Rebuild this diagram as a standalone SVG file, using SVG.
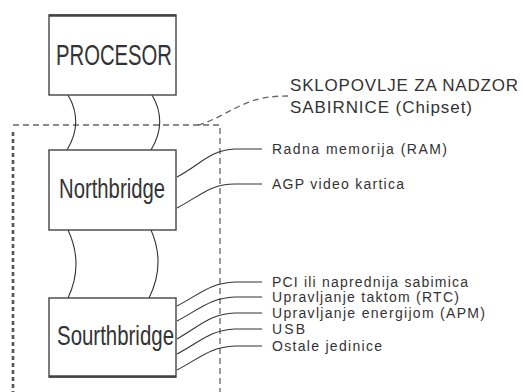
<svg xmlns="http://www.w3.org/2000/svg" width="523" height="392" viewBox="0 0 523 392">
<style>
.box{fill:#fff;stroke:#444;stroke-width:1.4}
.edge{stroke:#444;stroke-width:2.6}
.big{font-family:"Liberation Sans",Arial,sans-serif;fill:#333}
.lbl{font-family:"Liberation Sans",Arial,sans-serif;font-size:14px;fill:#333}
.ttl{font-family:"Liberation Sans",Arial,sans-serif;font-size:17px;fill:#333}
.wire{fill:none;stroke:#333;stroke-width:1.1}
.dash{fill:none;stroke:#666;stroke-width:1.3;stroke-dasharray:6 4}
.dot{fill:none;stroke:#555;stroke-width:2.6;stroke-dasharray:4 3}
</style>
<rect width="523" height="392" fill="#fff"/>
<g id="chipset-boundary">
<path class="dash" d="M13,125 H220 V392"/>
<path class="dot" d="M13,132 V392"/>
<path class="dash" d="M198,125 C 215,121 235,106 255,100 C 266,97 276,96 288,96"/>
</g>
<g id="connectors">
<path class="wire" d="M68,95 Q 84,122 67,150"/>
<path class="wire" d="M152,95 Q 168,122 151,150"/>
<path class="wire" d="M68,230 Q 84,264 68,298"/>
<path class="wire" d="M151,230 Q 166,264 149,298"/>
<path class="wire" d="M177,177 C 200,165 210,150 235,149 L 262,149"/>
<path class="wire" d="M177,208 C 200,196 210,184 235,184 L 262,184"/>
<path class="wire" d="M177,306 C 200,294 210,283 235,282 L 262,282"/>
<path class="wire" d="M177,321 C 200,309 210,298 235,297 L 262,297"/>
<path class="wire" d="M177,339 C 200,326 210,314 235,313 L 262,313"/>
<path class="wire" d="M177,354 C 200,342 210,330 235,329 L 262,329"/>
<path class="wire" d="M177,370 C 200,358 210,347 235,346 L 262,346"/>
</g>
<g id="procesor">
<rect class="box" x="49" y="15" width="127" height="80"/>
<line class="edge" x1="49" y1="15.5" x2="176" y2="15.5"/>
<text class="big" x="56" y="65" font-size="29" textLength="116" lengthAdjust="spacingAndGlyphs">PROCESOR</text>
</g>
<g id="northbridge">
<rect class="box" x="49" y="150" width="127" height="80"/>
<text class="big" x="59" y="198" font-size="27" textLength="106" lengthAdjust="spacingAndGlyphs">Northbridge</text>
</g>
<g id="southbridge">
<rect class="box" x="49" y="298" width="127" height="79"/>
<line class="edge" x1="49" y1="376.5" x2="176" y2="376.5"/>
<text class="big" x="57" y="345" font-size="28" textLength="117" lengthAdjust="spacingAndGlyphs">Sourthbridge</text>
</g>
<g id="chipset-label">
<text class="ttl" x="290" y="91" textLength="228">SKLOPOVLJE ZA NADZOR</text>
<text class="ttl" x="290" y="113" textLength="182">SABIRNICE (Chipset)</text>
</g>
<g id="ram"><text class="lbl" x="272" y="154" textLength="175">Radna memorija (RAM)</text></g>
<g id="agp"><text class="lbl" x="272" y="189" textLength="132">AGP video kartica</text></g>
<g id="pci"><text class="lbl" x="272" y="286.5" textLength="196">PCI ili naprednija sabimica</text></g>
<g id="rtc"><text class="lbl" x="272" y="302" textLength="187">Upravljanje taktom (RTC)</text></g>
<g id="apm"><text class="lbl" x="272" y="318" textLength="213">Upravljanje energijom (APM)</text></g>
<g id="usb"><text class="lbl" x="272" y="334" textLength="33">USB</text></g>
<g id="ostale"><text class="lbl" x="272" y="350.5" textLength="110">Ostale jedinice</text></g>
</svg>
